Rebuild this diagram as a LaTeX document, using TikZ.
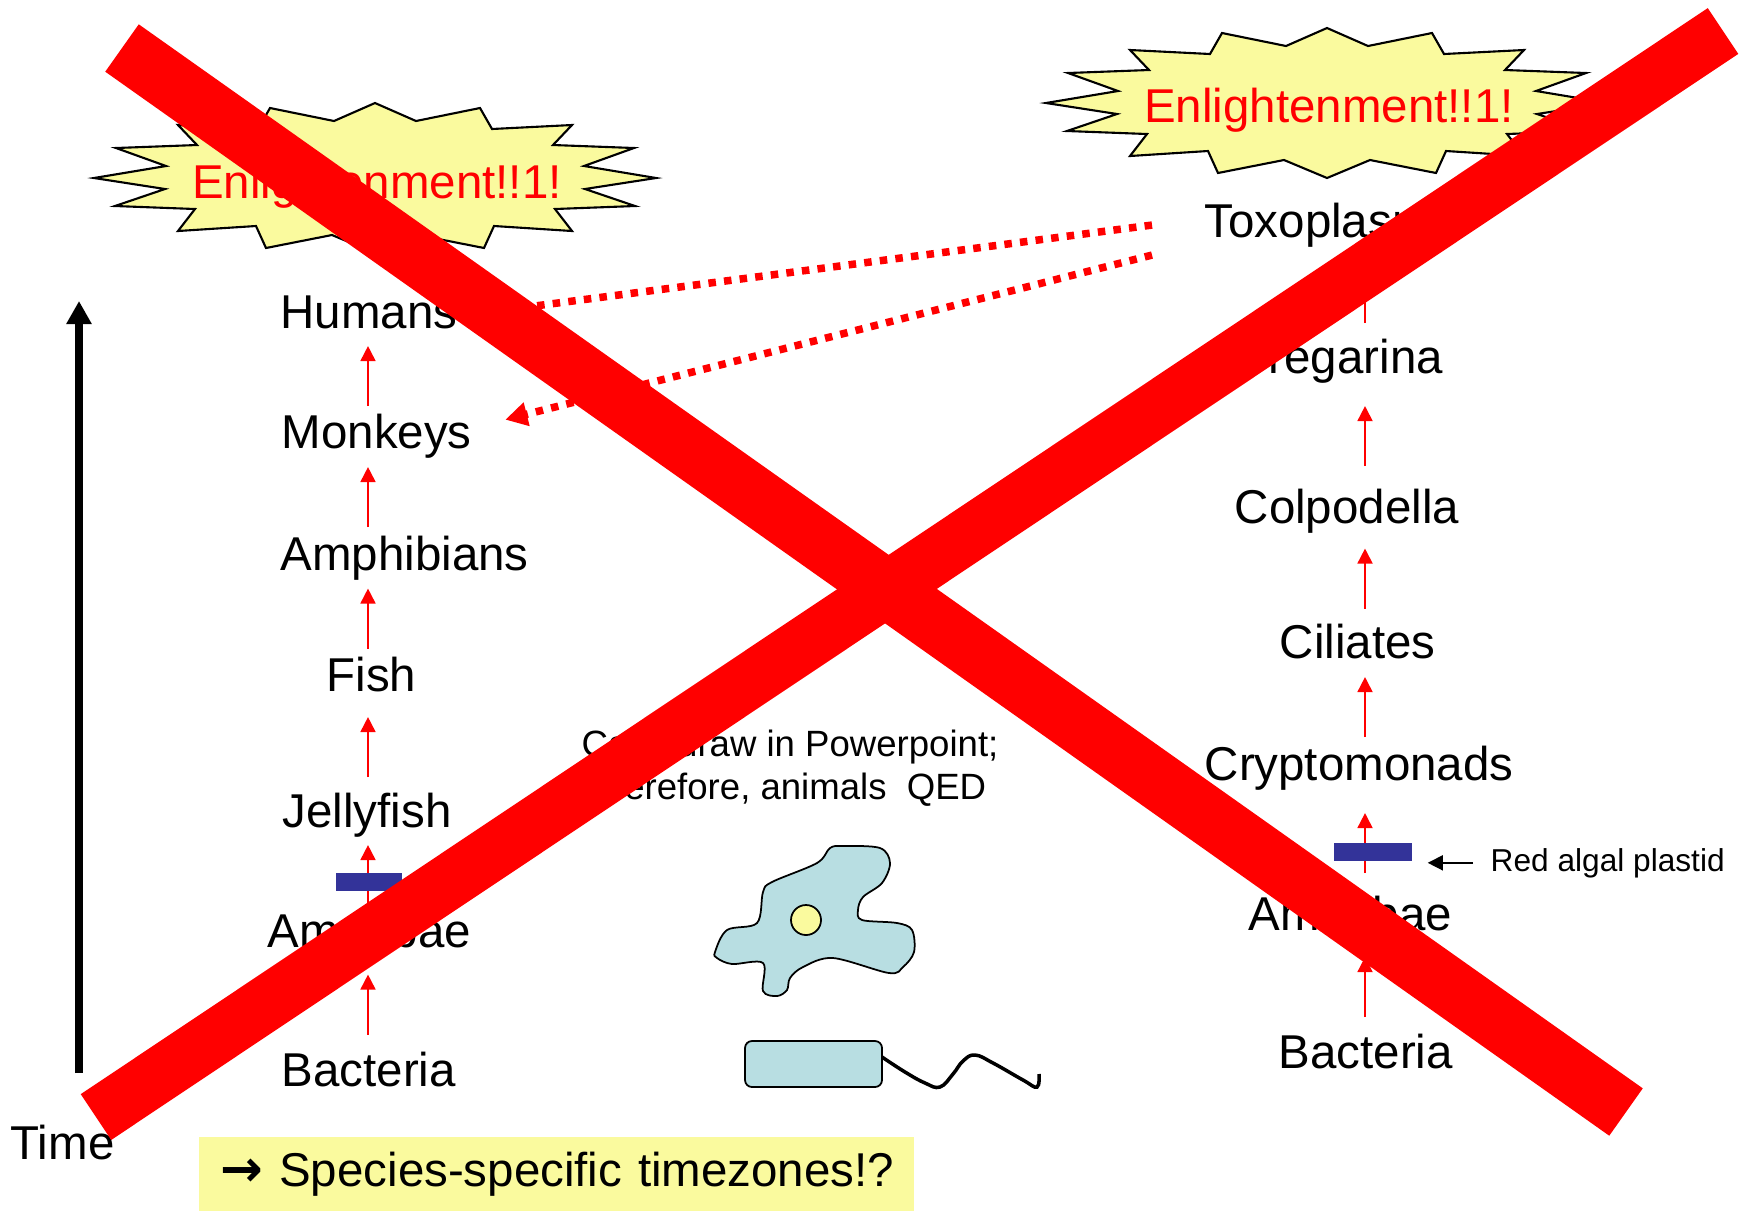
\documentclass[tikz,border=0pt]{standalone}
\usepackage{fontspec}
\setmainfont{Liberation Sans}
\newfontfamily\arrowfont{DejaVu Sans}
\usetikzlibrary{arrows.meta,calc}

\definecolor{burstyellow}{RGB}{250,250,158}
\definecolor{plastidblue}{RGB}{51,51,153}
\definecolor{cellblue}{RGB}{184,222,226}

\tikzset{
  taxon/.style={anchor=base west, inner sep=0pt, text height=9.7pt, text depth=2.9pt,
    font=\fontsize{13.5}{16}\selectfont},
  shout/.style={anchor=base, inner sep=0pt, red, font=\fontsize{13.5}{16}\selectfont},
  evo/.style={red, line width=0.5pt, -{Triangle[width=0.15cm,length=0.15cm]}},
  plastid/.style={fill=plastidblue, inner sep=0pt, minimum height=0.18cm},
  claim/.style={red, line width=0.075cm, dash pattern=on 0.075cm off 0.082cm,
    -{Triangle[width=0.23cm,length=0.22cm]}},
  pointer/.style={line width=0.4pt, -{Triangle[width=0.15cm,length=0.15cm]},
    shorten <=0.17cm, shorten >=0.15cm},
  cellbody/.style={fill=cellblue, draw=black, line width=0.5pt},
  veto/.style={red, line width=0.56cm, line cap=butt},
  % the spiky "Enlightenment" burst, centred on the pic's origin
  burst/.pic={
    \filldraw[fill=burstyellow, draw=black, line width=0.6pt, line join=miter]
      (0,-75) -- (-41,-57) -- (-105,-70) -- (-117,-49) -- (-197,-53) -- (-178,-33)
      -- (-259,-30) -- (-209,-12) -- (-281,0) -- (-210,11) -- (-260,28) -- (-180,31)
      -- (-197,53) -- (-119,48) -- (-109,70) -- (-43,57) -- (0,75) -- (43,57)
      -- (109,70) -- (119,48) -- (197,53) -- (180,31) -- (260,28) -- (210,11)
      -- (281,0) -- (209,-12) -- (259,-30) -- (178,-33) -- (197,-53) -- (117,-49)
      -- (105,-70) -- (41,-57) -- cycle;
  },
}

\begin{document}
\begin{tikzpicture}[x=0.01cm, y=-0.01cm]
    \fill[white] (0,0) rectangle (1743,1211);
    \useasboundingbox (0,0) rectangle (1743,1211);

    % Enlightenment bursts over both columns
    \pic at (375,178) {burst};
    \node[shout] (enlL) at (377,198) {Enlightenment!!1!};
    \pic at (1327,103) {burst};
    \node[shout] (enlR) at (1329,122) {Enlightenment!!1!};

    % Left column: the animal ladder
    \node[taxon] (humans) at (280,328) {Humans};
    \node[taxon] (monkeys) at (281,448) {Monkeys};
    \node[taxon] (amphib) at (280,570) {Amphibians};
    \node[taxon] (fish) at (326,691) {Fish};
    \node[taxon] (jelly) at (282,827) {Jellyfish};
    \node[taxon] (amoebL) at (267,947) {Amoebae};
    \node[taxon] (bactL) at (281,1086) {Bacteria};

    % Right column: the apicomplexan ladder
    \node[taxon] (toxo) at (1204,237) {Toxoplasma};
    \node[taxon] (greg) at (1231,373) {Gregarina};
    \node[taxon] (colpo) at (1234,523) {Colpodella};
    \node[taxon] (cil) at (1279,658) {Ciliates};
    \node[taxon] (crypto) at (1204,780) {Cryptomonads};
    \node[taxon] (amoebR) at (1248,930) {Amoebae};
    \node[taxon] (bactR) at (1278,1068) {Bacteria};

    \coordinate (lcol) at (368,0);
    \coordinate (rcol) at (1365,0);

    % Red arrows, centred in the gap between two steps
    \foreach \lo/\hi in {bactL/amoebL, amoebL/jelly, jelly/fish, fish/amphib, amphib/monkeys, monkeys/humans}{
      \path ($(\hi.south)!0.5!(\lo.north)$) coordinate (gap);
      \draw[evo] ($(lcol |- gap)+(0,30)$) -- ++(0,-60);
    }
    \foreach \lo/\hi in {bactR/amoebR, amoebR/crypto, crypto/cil, cil/colpo, colpo/greg, greg/toxo}{
      \path ($(\hi.south)!0.5!(\lo.north)$) coordinate (gap);
      \draw[evo] ($(rcol |- gap)+(0,30)$) -- ++(0,-60);
    }

    % Plastid bars across the arrows
    \node[plastid, minimum width=0.66cm] (barL) at (369,882) {};
    \node[plastid, minimum width=0.78cm] (barR) at (1373,852) {};
    \node[anchor=base west, inner sep=0pt, font=\fontsize{9}{11}\selectfont] (rap) at (1490,871) {Red algal plastid};
    \draw[pointer] (rap.west) -- (rap.west -| barR.east);

    % Dotted claims from Toxoplasma back to the primates
    \draw[claim, shorten >=0.15cm] ($(toxo.west)+(-52,0)$) -- (humans.east);
    \draw[claim, shorten >=0.34cm] ($(toxo.west)+(-52,30)$) -- ($(monkeys.east)+(0,-8)$);

    % Time axis
    \coordinate (t0) at (79,1073);
    \coordinate (t1) at (79,301);
    \draw[line width=0.07cm, -{Triangle[width=0.24cm,length=0.23cm]}] (t0) -- (t1);
    \node[taxon] (time) at (10,1159) {Time};

    % Note in the middle
    \node[anchor=north west, inner sep=0pt, align=left, font=\fontsize{10.4}{12.3}\selectfont] (qed) at (581,729)
      {Can't draw in Powerpoint;\\Therefore, animals\ \ QED};

    % Amoeba with its nucleus
    \filldraw[cellbody] plot[smooth cycle, tension=0.55] coordinates {(715,952) (727,930) (757,923)
      (763,892) (772,882) (817,863) (830,848) (843,846) (880,848) (890,863) (882,883) (863,897)
      (858,910) (862,920) (897,923) (912,930) (914,952) (903,967) (889,973) (833,958) (803,967)
      (790,978) (787,990) (777,996) (763,991) (763,963) (732,964) (717,958)};
    \filldraw[fill=burstyellow, draw=black, line width=0.5pt] (806,920) circle (0.15cm);

    % Bacterium with its flagellum
    \filldraw[cellbody, rounded corners=0.07cm] (745,1041) rectangle (882,1087);
    \draw[line width=1pt] plot[smooth, tension=0.7] coordinates {(882,1057) (905,1072) (925,1083)
      (940,1087) (953,1074) (963,1061) (975,1055) (993,1063) (1023,1080) (1037,1087) (1039,1074)};

    % Conclusion box
    \node[anchor=north west, fill=burstyellow, minimum height=0.74cm, inner xsep=0.22cm,
      text width=6.71cm, align=left, font=\fontsize{13.5}{16}\selectfont] (tz) at (198,1136)
      {\mbox{{\arrowfont\bfseries\fontsize{14.5}{16}\selectfont →} Species-specific timezones!?}};

    % The big red X over everything
    \coordinate (xa1) at (122,48);
    \coordinate (xa2) at (1626,1112);
    \coordinate (xb1) at (96,1117);
    \coordinate (xb2) at (1723,31);
    \draw[veto, line width=0.58cm] (xa1) -- (xa2);
    \draw[veto, line width=0.55cm] (xb1) -- (xb2);
\end{tikzpicture}
\end{document}
